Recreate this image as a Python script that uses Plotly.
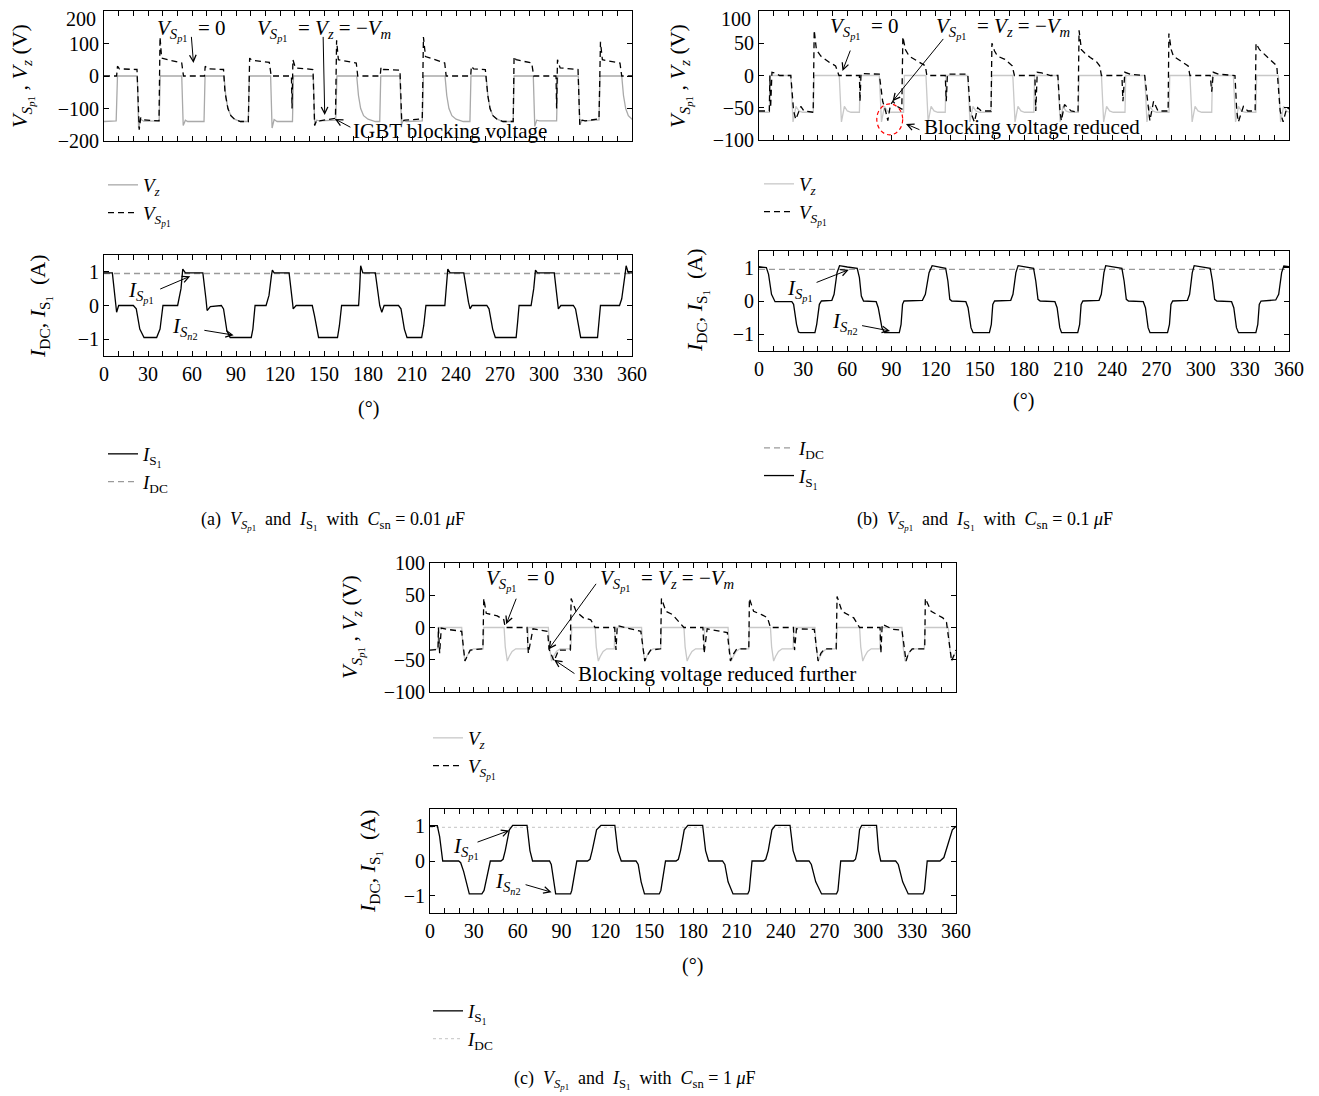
import plotly.graph_objects as go

W, H = 1319, 1096
OFF = 8  # page body margin of the html page
FONT = "Liberation Serif"

# ---------------- data (degrees, value) ----------------
VZ_A = [(0,-140),(8.3,-138),(9.2,0),(22.7,0),(23.6,-160),(25,-133),(27,-139),(37.6,-138),(38.3,0),(53,0),(54,-152),(55.5,-136),(57,-140),(68.2,-140),(68.9,0),(81.8,0),(83,-60),(84.5,-100),(86.5,-122),(89,-133),(93,-140),(98.4,-140),(99.1,0),(113.6,0),(114.6,-160),(116,-134),(118,-140),(128.5,-140),(129.2,0),(142.7,0),(143.7,-152),(145,-136),(147,-138),(158,-136),(158.8,0),(172.3,0),(173.5,-60),(175,-100),(177,-122),(180,-133),(185,-140),(188,-140),(188.7,0),(201.8,0),(202.8,-150),(204,-136),(206,-140),(217,-138),(217.8,0),(232.5,0),(233.7,-60),(235.2,-100),(237.2,-122),(240,-133),(245,-140),(249.5,-140),(250.2,0),(260.5,0),(261.7,-60),(263.2,-100),(265.2,-122),(268,-133),(272,-140),(279,-140),(279.6,0),(292.7,0),(293.7,-155),(295,-136),(297,-138),(308.6,-138),(309.3,0),(323.4,0),(324.4,-150),(326,-136),(328,-138),(337.5,-135),(338.2,0),(353,0),(354.2,-60),(355.7,-100),(357.5,-122),(360,-133)]
VSP_A = [(0,0),(8.6,0),(9.2,30),(10.5,22),(22.5,20),(23.2,-100),(24,-165),(25,-128),(26.5,-135),(37.5,-138),(38.2,120),(39.3,55),(53,40),(54.2,0),(68.5,0),(69,30),(70.5,22),(81.5,20),(82.5,-50),(84.5,-100),(86.5,-122),(89,-133),(93,-140),(98.4,-140),(99.3,55),(101,48),(112.7,42),(114,0),(127.8,0),(128.2,-100),(128.8,50),(130.5,25),(142.5,20),(143.6,-152),(145,-136),(147,-138),(157.8,-130),(158.6,110),(159.8,50),(172,40),(173,0),(188.3,0),(188.9,28),(190.5,20),(201.8,18),(203,-140),(205,-136),(217,-132),(217.8,120),(219.2,60),(232.3,40),(233.3,0),(250,0),(250.5,30),(252,22),(260,20),(261.7,-60),(263.2,-100),(265.2,-122),(268,-133),(272,-140),(279,-140),(279.6,60),(281,50),(291.6,40),(293,0),(308.2,0),(308.6,-100),(309.2,50),(311,25),(323.2,20),(324.4,-150),(326,-136),(328,-138),(337.5,-132),(338.5,105),(339.8,50),(351.8,40),(353,0),(360,0)]
IS_A = [(0,0.97),(5.7,0.97),(8.6,-0.2),(10,0),(20,0),(22,-0.1),(24.4,-0.7),(27.3,-0.95),(35.9,-0.95),(38.2,-0.7),(40.2,0),(50.2,0),(52.5,0.5),(53.7,1.08),(55.5,0.97),(67.4,0.97),(69.5,0.2),(70.3,-0.15),(72.5,-0.03),(80,0),(81.5,-0.1),(83.8,-0.75),(86,-0.95),(100.4,-0.95),(101.5,-0.7),(103,0),(110.5,0),(112.5,0.3),(114.2,0.9),(114.8,1.05),(116,0.97),(126.2,0.97),(128.5,0.1),(129,-0.1),(131,0),(142,0),(143.5,-0.3),(146.3,-0.95),(159.2,-0.95),(160.5,-0.6),(162,0),(173.6,0),(174.3,0.5),(175,1.18),(176.5,0.97),(185,0.97),(188,0),(189.4,-0.2),(191,0),(200.8,0),(202.5,-0.1),(204.8,-0.7),(206.6,-0.95),(216.6,-0.95),(218,-0.6),(219.5,0),(232.4,0),(233.5,0.6),(234.4,1.08),(236,0.97),(245.3,0.97),(248.5,0.1),(249.6,-0.1),(251,0),(261,0),(262.5,-0.1),(265,-0.7),(266.8,-0.95),(281,-0.95),(282,-0.5),(283,0),(291.2,0),(293,0.5),(294.2,1.05),(295.5,0.97),(307,0.97),(309,0.1),(309.8,-0.1),(311.5,0),(320,0),(321.5,-0.1),(324,-0.8),(325,-0.95),(336.5,-0.95),(337.5,-0.5),(338.5,0),(351.5,0),(353,0.2),(355.5,1.0),(356,1.18),(357.5,0.97),(360,0.97)]
IDC_A = [(0,0.95),(360,0.95)]

VZ_B = [(0,-57),(7.1,-57),(7.6,0),(21.6,0),(23.1,-72),(25.1,-48),(27.1,-55),(29.6,-57),(36.9,-57),(37.4,0),(54.5,0),(56,-72),(58,-48),(60,-55),(62.5,-57),(68.2,-57),(68.7,0),(81.7,0),(83.2,-72),(85.2,-48),(87.2,-55),(89.7,-57),(98.2,-57),(98.7,0),(113.4,0),(114.9,-72),(116.9,-48),(118.9,-55),(121.4,-57),(126.5,-57),(127,0),(141.8,0),(143.3,-72),(145.3,-48),(147.3,-55),(149.8,-57),(157.6,-57),(158.1,0),(172.4,0),(173.9,-72),(175.9,-48),(177.9,-55),(180.4,-57),(186.7,-57),(187.2,0),(203,0),(204.5,-72),(206.5,-48),(208.5,-55),(211,-57),(216.9,-57),(217.4,0),(232.6,0),(234.1,-72),(236.1,-48),(238.1,-55),(240.6,-57),(248.6,-57),(249.1,0),(262,0),(263.5,-72),(265.5,-48),(267.5,-55),(270,-57),(278.5,-57),(279,0),(292.7,0),(294.2,-72),(296.2,-48),(298.2,-55),(300.7,-57),(307.5,-57),(308,0),(322.2,0),(323.7,-72),(325.7,-48),(327.7,-55),(330.2,-57),(337.5,-57),(338,0),(352.8,0),(354.3,-72),(356.3,-48),(358.3,-55),(360,-57)]
VSP_B = [(0,-55),(7,-55),(7.4,0),(7.9,-50),(8.8,5),(10.5,4),(14,0),(21.6,0),(23.5,-55),(25,-68),(28.4,-48),(30.5,-55),(36.8,-57),(37.5,70),(39,40),(42,30),(48,20),(52,15),(54.3,0),(68.2,0),(68.6,-40),(69.3,3),(81.7,2),(84,-40),(86.2,-57),(87.5,-70),(89.3,-45),(91,-40),(94,-48),(97,-52),(97.7,60),(99.5,40),(102,30),(109,20),(113,15),(114,0),(126.5,0),(127.2,-40),(128,2),(141.8,2),(143.5,-55),(146.3,-72),(148.5,-50),(151,-55),(157.6,-55),(158.2,50),(160,38),(162,30),(167,25),(172,15),(173.5,0),(187.4,0),(188,-55),(189,5),(192,4),(198,0),(203,0),(204.5,-57),(205.4,-70),(207.5,-45),(210,-50),(212,-55),(216.7,-57),(217.4,70),(219,40),(221.2,35),(225,28),(229,22),(231.4,15),(232.6,0),(246.5,0),(247.2,-40),(248.5,5),(252,2),(262,0),(264.5,-55),(265.5,-70),(268,-40),(271,-55),(277.9,-55),(278.4,65),(280,40),(281.5,30),(288,20),(291.5,15),(292.7,0),(306.5,0),(307.5,-25),(308.6,5),(312,2),(323.3,0),(324.5,-55),(325.6,-72),(329,-48),(332,-55),(337,-55),(337.6,50),(340,40),(347,25),(351.7,15),(354,-55),(356,-72),(358.5,-50),(360,-52)]
IS_B = [(0,1.03),(5,1.0),(6.5,0.8),(8.5,0.2),(10.9,-0.02),(22.3,-0.02),(23.5,-0.1),(25.5,-0.7),(26.8,-0.93),(28,-0.95),(38,-0.95),(39.2,-0.7),(41,-0.1),(42.4,0),(49.5,0.02),(51,0.2),(53,0.85),(54.7,1.06),(60,1.02),(66.7,0.98),(68.2,0.7),(69.5,0.15),(71,0),(79.6,-0.02),(81,-0.2),(83.5,-0.8),(85.3,-0.95),(95.3,-0.95),(96.5,-0.7),(97.5,-0.1),(98.5,0),(111,0.02),(113,0.2),(115.5,0.85),(117.6,1.06),(122,1.02),(126.8,0.98),(128.3,0.6),(129.6,0.05),(131,0),(140.5,-0.02),(142,-0.2),(144,-0.8),(145.4,-0.95),(156.5,-0.95),(157.8,-0.7),(158.8,-0.1),(160,0),(171,0.02),(172.5,0.2),(174.5,0.85),(176,1.06),(181,1.02),(186.5,0.98),(188,0.6),(189.5,0.05),(191,0),(201,-0.02),(202.5,-0.2),(204.3,-0.8),(205.5,-0.95),(216.5,-0.95),(217.8,-0.7),(218.8,-0.1),(220,0),(231,0.02),(232.5,0.2),(234.3,0.85),(235.5,1.06),(241,1.02),(246.5,0.98),(248,0.6),(249.5,0.05),(251,0),(261,-0.02),(262.5,-0.2),(264.3,-0.8),(265.6,-0.95),(277.5,-0.95),(278.8,-0.7),(279.8,-0.1),(281,0),(291,0.02),(292.5,0.2),(294.3,0.85),(295.6,1.06),(301,1.02),(306.5,0.98),(308,0.6),(309.5,0.05),(311,0),(321,-0.02),(322.5,-0.2),(324.3,-0.8),(325.7,-0.95),(337.5,-0.95),(338.8,-0.7),(339.8,-0.1),(341,0),(351,0.03),(353,0.2),(355,0.85),(356.5,1.05),(360,1.03)]
IDC_B = [(0,0.95),(360,0.95)]

VZ_C = [(0,-35),(5.3,-33),(5.8,0),(21.7,0),(22.5,-30),(23.9,-52),(25.2,-45),(27.2,-37),(29.7,-33),(36.3,-33),(36.8,0),(50.7,0),(51.5,-30),(52.9,-52),(54.2,-45),(56.2,-37),(58.7,-33),(66.7,-33),(67.2,0),(81,0),(81.8,-30),(83.2,-52),(84.5,-45),(86.5,-37),(89,-33),(96.5,-33),(97,0),(113,0),(113.8,-30),(115.2,-52),(116.5,-45),(118.5,-37),(121,-33),(126.1,-33),(126.6,0),(144.8,0),(145.6,-30),(147,-52),(148.3,-45),(150.3,-37),(152.8,-33),(157.9,-33),(158.4,0),(173.8,0),(174.6,-30),(176,-52),(177.3,-45),(179.3,-37),(181.8,-33),(187.5,-33),(188,0),(204,0),(204.8,-30),(206.2,-52),(207.5,-45),(209.5,-37),(212,-33),(218.1,-33),(218.6,0),(233,0),(233.8,-30),(235.2,-52),(236.5,-45),(238.5,-37),(241,-33),(248.5,-33),(249,0),(263.5,0),(264.3,-30),(265.7,-52),(267,-45),(269,-37),(271.5,-33),(278.1,-33),(278.6,0),(294,0),(294.8,-30),(296.2,-52),(297.5,-45),(299.5,-37),(302,-33),(307.9,-33),(308.4,0),(323,0),(323.8,-30),(325.2,-52),(326.5,-45),(328.5,-37),(331,-33),(338.3,-33),(338.8,0),(354.8,0),(355.6,-30),(357,-52),(358.3,-45),(360,-38)]
VSP_C = [(0,-35),(5.5,-34),(5.8,0),(6.6,-40),(7.7,-1),(12,-3),(19,-5),(21.7,-6),(23.9,-52),(25.2,-45),(27.5,-35),(36.2,-33),(36.8,45),(38.5,22),(46,18),(50.5,12),(51.5,0),(66.4,0),(67.3,-40),(70.5,-2),(75,-4),(80.5,-6),(81.5,-34),(84.9,-52),(86.2,-45),(88,-35),(96,-35),(96.6,45),(100,25),(105,15),(110,12),(113,0),(126.4,0),(127.3,-35),(128.2,3),(134,0),(142,-4),(144.3,-6),(147,-52),(148.3,-45),(151,-35),(157.8,-33),(158.4,45),(161.5,25),(166,20),(172,5),(173.8,0),(186.8,0),(187.6,-40),(189.7,-2),(196,-5),(203.5,-8),(205.6,-52),(207.5,-42),(210,-33),(218.2,-33),(218.6,45),(221.5,25),(227,20),(231,15),(233,0),(248.7,0),(249.5,-35),(250.8,-2),(263,-3),(265.6,-52),(267.5,-40),(270,-33),(278,-33),(278.6,48),(282,25),(290,15),(294,0),(308,0),(308.6,-40),(309.5,5),(317,-3),(323,-4),(325.8,-52),(327.5,-40),(330,-33),(338.6,-33),(339,45),(343,25),(351,15),(353.5,8),(357,-52),(358.5,-42),(360,-35)]
IS_C = [(0,1.02),(5,1.02),(6.6,0.7),(8.7,0),(19.6,0),(21,-0.05),(23,-0.3),(26.9,-0.95),(35.5,-0.95),(37,-0.85),(41.3,0),(48.5,0),(50,0.05),(51.5,0.3),(54.3,0.9),(56.6,1.03),(66.4,1.03),(68.4,0.3),(70.2,0),(81.8,0),(83,-0.1),(84.3,-0.5),(86,-0.95),(96.2,-0.95),(97,-0.85),(100.5,0),(107.8,0),(109.5,0.05),(111,0.3),(114,0.9),(117,1.03),(126.5,1.03),(128.5,0.3),(130.9,0),(141,0),(142.5,-0.1),(144.5,-0.6),(146.8,-0.95),(156.9,-0.95),(158,-0.85),(161.2,0),(168.4,0),(170,0.05),(171.5,0.3),(174,0.9),(176.5,1.03),(186.6,1.03),(188.6,0.3),(190.7,0),(200.2,0),(201.8,-0.1),(204,-0.6),(207.4,-0.95),(217.5,-0.95),(218.5,-0.85),(220.4,0),(228.2,0),(229.8,0.05),(231.5,0.3),(234,0.9),(236.3,1.03),(246.4,1.03),(248.5,0.3),(250.8,0),(259.4,0),(261,-0.1),(264,-0.6),(268,-0.95),(278.2,-0.95),(279.2,-0.85),(281.1,0),(289.8,0),(291.2,0.05),(292.5,0.3),(294,0.9),(295.5,1.03),(305.6,1.03),(307,0.3),(308.5,0),(318.7,0),(320.5,-0.1),(323.5,-0.6),(327.3,-0.95),(337.4,-0.95),(338.4,-0.85),(340.3,0),(349,0),(351.7,0.1),(354.6,0.5),(357.5,0.9),(360,1.0)]
IDC_C = [(0,0.97),(360,0.97)]

X_TICKS = [0, 30, 60, 90, 120, 150, 180, 210, 240, 270, 300, 330, 360]
VTICKS_A = [-200, -100, 0, 100, 200]
VTICKS_BC = [-100, -50, 0, 50, 100]
ITICKS = [-1, 0, 1]
CAPTIONS = ["0.01", "0.1", "1"]

# ---------------- text snippets ----------------
VSP = "<i>V</i><sub><i>S</i><sub><i>p</i>1</sub></sub>"
VZ = "<i>V<sub>z</sub></i>"
IS1 = "<i>I</i><sub>S<sub>1</sub></sub>"
IDC = "<i>I</i><sub>DC</sub>"
ISP = "<i>I</i><sub><i>S</i><sub><i>p</i>1</sub></sub>"
ISN = "<i>I</i><sub><i>S</i><sub><i>n</i>2</sub></sub>"

def px(x):
    return (x - OFF) / W

def py(y):
    return 1 - (y - OFF) / H

def xs(d):
    return [p[0] for p in d]

def ys(d):
    return [p[1] for p in d]

def lab(v):
    return str(v).replace("-", "\u2212")

fig = go.Figure()

# panel geometry in page pixels: (left, right, top, bottom)
boxes = {
    1: (104, 632, 11, 141), 2: (104, 632, 255, 356),
    3: (759, 1289, 11, 140), 4: (759, 1289, 251, 351),
    5: (430, 956, 563, 692), 6: (430, 956, 809, 913),
}
TICKSIZE = 20

def ax_name(i, kind):
    return kind if i == 1 else f"{kind}{i}"

axis_common = dict(showline=True, linecolor="black", linewidth=1, mirror="ticks",
                   ticks="inside", ticklen=5, tickcolor="black", showgrid=False,
                   zeroline=False, automargin=False,
                   tickfont=dict(family=FONT, size=TICKSIZE, color="black"))

ann = []

def text(s, x, y, size=21, xanchor="left", angle=0, yanchor="middle"):
    ann.append(dict(text=s, x=px(x), y=py(y), xref="paper", yref="paper",
                    showarrow=False, xanchor=xanchor, yanchor=yanchor, textangle=angle,
                    font=dict(family=FONT, size=size, color="black")))

for i, (l, r, t, b) in boxes.items():
    bottom = (i % 2 == 0)
    xa = dict(axis_common, domain=[px(l), px(r)], range=[0, 360], tickvals=X_TICKS,
              showticklabels=bottom, anchor=ax_name(i, "y"),
              minor=dict(dtick=10, ticks="inside", ticklen=5, tickcolor="black"))
    if i == 1:
        yv, yr = VTICKS_A, [-200, 200]
    elif bottom:
        yv, yr = ITICKS, [-1.5, 1.5]
    else:
        yv, yr = VTICKS_BC, [-100, 100]
    tt = [lab(v) for v in yv]
    if t < 20:
        # top label would be cut by the page edge: draw it just inside instead
        tt[-1] = ""
        text(lab(yv[-1]), l - 6, 19, size=TICKSIZE, xanchor="right")
    ya = dict(axis_common, domain=[py(b), py(t)], range=yr, tickvals=yv,
              ticktext=tt, anchor=ax_name(i, "x"))
    fig.layout[ax_name(i, "xaxis")] = xa
    fig.layout[ax_name(i, "yaxis")] = ya

def add(d, i, name, color, dash, legend, rank, width=1.3):
    fig.add_trace(go.Scatter(x=xs(d), y=ys(d), mode="lines", name=name,
                             line=dict(color=color, width=width, dash=dash),
                             xaxis=ax_name(i, "x"), yaxis=ax_name(i, "y"),
                             legend=legend, legendrank=rank))

DASH = "6px,4px"
add(VZ_A, 1, VZ, "#a9a9a9", "solid", "legend", 1)
add(VSP_A, 1, VSP, "black", DASH, "legend", 2)
add(IDC_A, 2, IDC, "#9a9a9a", DASH, "legend2", 2)
add(IS_A, 2, IS1, "black", "solid", "legend2", 1)

add(VZ_B, 3, VZ, "#c8c8c8", "solid", "legend3", 1)
add(VSP_B, 3, VSP, "black", DASH, "legend3", 2)
add(IDC_B, 4, IDC, "#9a9a9a", DASH, "legend4", 1)
add(IS_B, 4, IS1, "black", "solid", "legend4", 2)

add(VZ_C, 5, VZ, "#c8c8c8", "solid", "legend5", 1)
add(VSP_C, 5, VSP, "black", DASH, "legend5", 2)
add(IDC_C, 6, IDC, "#cfcfcf", "dot", "legend6", 2)
add(IS_C, 6, IS1, "black", "solid", "legend6", 1)

# legends (top-left corner in page pixels)
leg_pos = {"legend": (103, 166), "legend2": (103, 435), "legend3": (759, 165),
           "legend4": (759, 429), "legend5": (428, 719), "legend6": (428, 992)}
for k, (x, y) in leg_pos.items():
    fig.layout[k] = dict(x=px(x), y=py(y), xanchor="left", yanchor="top",
                         bgcolor="rgba(0,0,0,0)", borderwidth=0, traceorder="normal",
                         tracegroupgap=0, itemwidth=30,
                         font=dict(family=FONT, size=19, color="black"))

def arrow(i, tip, tail):
    ann.append(dict(text="", x=tip[0], y=tip[1], ax=tail[0], ay=tail[1],
                    xref=ax_name(i, "x"), yref=ax_name(i, "y"),
                    axref=ax_name(i, "x"), ayref=ax_name(i, "y"),
                    showarrow=True, arrowhead=5, arrowsize=1.3, arrowwidth=1,
                    arrowcolor="black", standoff=0, startstandoff=0))

VEQ0 = VSP + "  = 0"
VEQM = VSP + "  = <i>V<sub>z</sub></i> = \u2212<i>V<sub>m</sub></i>"

# panel (a)
text(VEQ0, 155, 30)
text(VEQM, 255, 30)
text("IGBT blocking voltage", 351, 131)
arrow(1, (61, 40), (59.5, 125))
arrow(1, (150.5, -120), (149.4, 125))
arrow(1, (157.4, -132), (169, -160))
text(ISP, 126, 292)
text(ISN, 170, 328)
arrow(2, (58.8, 0.87), (37.3, 0.47))
arrow(2, (88.4, -0.88), (67.4, -0.73))

# panel (b)
text(VEQ0, 828, 28)
text(VEQM, 934, 28)
text("Blocking voltage reduced", 922, 127)
arrow(3, (56.7, 7), (62.4, 41))
arrow(3, (90.7, -40), (126, 59))
arrow(3, (99.8, -75), (110, -85))
text(ISP, 785, 290)
text(ISN, 830, 323)
arrow(4, (61, 0.94), (38.1, 0.54))
arrow(4, (89, -0.9), (69, -0.73))

# panel (c)
text(VEQ0, 484, 580)
text(VEQM, 598, 580)
text("Blocking voltage reduced further", 576, 674)
arrow(5, (52.1, 5), (59.4, 47))
arrow(5, (81.1, -34), (114.4, 70))
arrow(5, (84.9, -50), (99.9, -73))
text(ISP, 451, 848)
text(ISN, 493, 883)
arrow(6, (54.3, 0.88), (31.5, 0.53))
arrow(6, (83.2, -0.9), (64.4, -0.67))

# axis titles
VTITLE = VSP + " , " + "<i>V<sub>z</sub></i> (V)"
ITITLE = IDC + ", " + IS1 + "  (A)"
for (x, y, s) in [(22, 76, VTITLE), (40, 306, ITITLE), (680, 76, VTITLE),
                  (697, 300, ITITLE), (352, 627, VTITLE), (370, 861, ITITLE)]:
    text(s, x, y, size=22, xanchor="center", angle=-90)
for (x, y) in [(368, 408), (1023, 401), (692, 965)]:
    text("(\u00b0)", x, y, size=20, xanchor="center")

# captions
for (x, y, lb, c) in [(333, 521, "(a)", CAPTIONS[0]), (985, 521, "(b)", CAPTIONS[1]),
                      (634, 1080, "(c)", CAPTIONS[2])]:
    text(lb + "  " + VSP + "  and  " + IS1 + "  with  <i>C</i><sub>sn</sub> = " + c + " <i>\u03bc</i>F",
         x, y, size=18, xanchor="center")

fig.update_layout(
    annotations=ann,
    width=W, height=H, margin=dict(l=0, r=0, t=0, b=0),
    paper_bgcolor="white", plot_bgcolor="white",
    font=dict(family=FONT, size=18, color="black"),
    shapes=[dict(type="circle", xref="x3", yref="y3", x0=80, x1=97.6, y0=-92, y1=-44,
                 line=dict(color="red", width=1.2, dash="4px,3px"))],
)

fig.write_html("out.html")
